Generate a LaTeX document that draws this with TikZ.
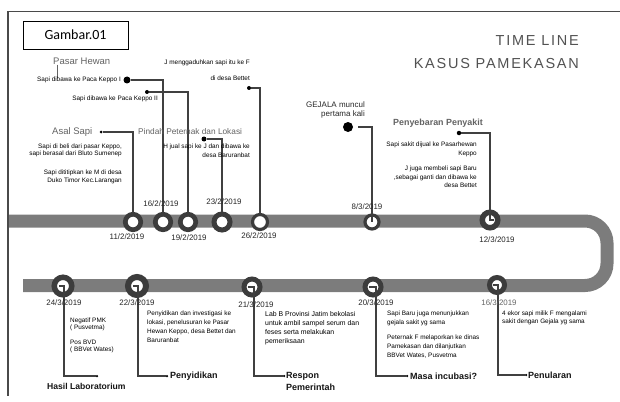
\documentclass[tikz,border=0pt]{standalone}
\usepackage{fontspec}
\setmainfont{Liberation Sans}
\newfontfamily\carlito{Carlito}
\newfontfamily\titlefont[LetterSpace=12]{Liberation Sans}
\usetikzlibrary{calc}
\definecolor{ringc}{HTML}{3C3C3C}
\definecolor{barc}{HTML}{7C7C7C}
\definecolor{headc}{HTML}{626262}
\definecolor{linec}{HTML}{404040}
\definecolor{framec}{HTML}{4A4A4A}
\begin{document}
\begin{tikzpicture}[x=1pt,y=-1pt,
  tlring/.style 2 args={circle,draw=ringc,fill=white,inner sep=0pt,line width=#1,minimum size=#2},
  conn/.style={draw=linec,line width=1.1pt},
  bigdot/.style={circle,fill=black,inner sep=0pt,minimum size=#1},
  tiny/.style={font=\fontsize{6.4}{9}\selectfont,text=black,inner sep=0pt},
  tinyb/.style={font=\fontsize{6.4}{7.5}\selectfont,text=black,inner sep=0pt},
  date/.style={font=\fontsize{7.9}{8}\selectfont,text=black!85,inner sep=0pt},
  head/.style={font=\fontsize{9.5}{11}\selectfont,text=headc,inner sep=0pt},
  lbl/.style={font=\fontsize{9}{11.5}\selectfont\bfseries,text=black!92,inner sep=0pt},
]
\useasboundingbox (0,0) rectangle (620,401);
% frame
\draw[framec,line width=1.2pt] (620,11.5) -- (8,11.5) -- (8,396);
% title box
\node[draw=black,line width=0.9pt,minimum width=105pt,minimum height=28pt,inner sep=0pt,font=\carlito\fontsize{14}{16}\selectfont] (gbox) at (75.5,35) {Gambar.01};
\node[anchor=east,font=\titlefont\fontsize{14.5}{16}\selectfont,text=black!68,inner sep=0pt] (t1) at (579,41) {TIME LINE};
\node[anchor=east,font=\titlefont\fontsize{14.5}{16}\selectfont,text=black!68,inner sep=0pt] (t2) at (579,64) {KASUS PAMEKASAN};
% bar
\coordinate (b1) at (9,221);
\coordinate (b2) at (607,221);
\coordinate (b3) at (607,285.5);
\coordinate (b4) at (23,285.5);
\draw[barc,line width=13pt,rounded corners=22pt] (b1) -- (b2) -- (b3) -- (b4);
% upper rings
\node[tlring={4.7pt}{15.5pt}] (r112) at (133,222) {};
\node[tlring={4.7pt}{15.5pt}] (r162) at (163,222) {};
\node[tlring={4.7pt}{15.5pt}] (r192) at (188,222) {};
\node[tlring={5pt}{16pt}] (r232) at (222,222) {};
\node[tlring={3.2pt}{15pt}] (r262) at (260,222) {};
\node[tlring={3.2pt}{14pt}] (r83) at (372,222) {};
\node[tlring={5.5pt}{15.5pt}] (r123) at (490,220) {};
% lower rings
\node[tlring={5.5pt}{17.5pt}] (r243) at (63,286) {};
\node[tlring={6pt}{18pt}] (r223) at (137,286) {};
\node[tlring={5pt}{16pt}] (r213) at (252,287) {};
\node[tlring={5pt}{16pt}] (r203) at (373,287) {};
\node[tlring={5pt}{15pt}] (r163) at (497,285) {};
% upper dots
\node[bigdot=7pt] (dK1) at (127,80) {};
\node[bigdot=4pt] (dK2) at (147,92) {};
\node[bigdot=4pt] (dBet) at (249,88) {};
\node[bigdot=5pt] (dPin) at (204,139) {};
\node[bigdot=3pt] (dAsal) at (101,132) {};
\node[bigdot=10pt] (dGej) at (348,127) {};
\node[bigdot=4.5pt] (dPeny) at (459,133) {};
% lower end dots
\node[bigdot=2.5pt] (eHasil) at (97,376) {};
\node[bigdot=2.5pt] (ePeny) at (167,376) {};
\node[bigdot=2.5pt] (eResp) at (284,376) {};
\node[bigdot=2.5pt] (eMasa) at (407,376) {};
\node[bigdot=2.5pt] (ePenu) at (526,375) {};
% upper connectors
\draw[conn] (dAsal) -| (r112);
\draw[conn] (dK1) -| (r162);
\draw[conn] (dK2) -| (r192);
\draw[conn] (dBet) -| (r262);
\draw[conn] (dPin) -| (r232);
\draw[conn,shorten <=5pt] (dGej) -| (r83.center);
\draw[conn] (dPeny) -| (r123.center) -- ++(4,0);
% lower connectors
\draw[conn] ([xshift=-4pt]r243.center) -- ([xshift=1pt]r243.center) |- (eHasil);
\draw[conn] ([xshift=-4pt]r223.center) -- ([xshift=1pt]r223.center) |- (ePeny);
\draw[conn] ([xshift=-4pt]r213.center) -- ([xshift=2pt]r213.center) |- (eResp);
\draw[conn] ([xshift=-4pt]r203.center) -- ([xshift=3pt]r203.center) |- (eMasa);
\draw[conn] ([xshift=-4pt]r163.center) -- ([xshift=1pt]r163.center) |- (ePenu);
% dates
\node[date] (d112) at (127,237) {11/2/2019};
\node[date] (d162) at (161,204) {16/2/2019};
\node[date] (d192) at (189,238) {19/2/2019};
\node[date] (d232) at (224,202) {23/2/2019};
\node[date] (d262) at (259,236) {26/2/2019};
\node[date] (d83) at (367,207) {8/3/2019};
\node[date] (d123) at (497,240) {12/3/2019};
\node[date] (d243) at (64,303) {24/3/2019};
\node[date] (d223) at (137,303) {22/3/2019};
\node[date] (d213) at (256,305) {21/3/2019};
\node[date] (d203) at (376,303) {20/3/2019};
\node[date,text=black!60] (d163) at (499,303) {16/3/2019};
% headings
\node[head,anchor=west] (hPasar) at (53,61) {Pasar Hewan};
\draw[headc,line width=1pt] ([xshift=4pt]hPasar.south west) -- ++(0,13);
\node[head,anchor=west] (hAsal) at (52,132) {Asal Sapi};
\node[head,anchor=west,font=\fontsize{8.3}{10}\selectfont] (hPin) at (138,132) {Pindah Peternak dan Lokasi};
\node[head,anchor=west,font=\fontsize{8.9}{10}\selectfont\bfseries] (hPenyeb) at (393,123) {Penyebaran Penyakit};
% upper texts
\node[tiny,anchor=east] (tK1) at (121,80) {Sapi dibawa ke Paca Keppo I};
\node[tiny,anchor=east] (tK2) at (158,99) {Sapi dibawa ke Paca Keppo II};
\node[tiny,anchor=east] (tJ1) at (250,63) {J menggaduhkan sapi itu ke F};
\node[tiny,anchor=east] (tJ2) at (250,78) {di desa Bettet};
\node[tiny,anchor=north east,align=right] (tPin) at (250,144) {H jual sapi ke J dan dibawa ke\\desa Baruranbat};
\node[tinyb,anchor=north east,align=right] (tAs1) at (122,143.5) {Sapi di beli dari pasar Keppo,\\sapi berasal dari Bluto Sumenep};
\node[tinyb,anchor=north east,align=right,font=\fontsize{6.4}{8}\selectfont] (tAs2) at (122,169.5) {Sapi dititipkan ke M di desa\\Duko Timor Kec.Larangan};
\node[anchor=north east,align=right,inner sep=0pt,font=\fontsize{8}{9}\selectfont,text=black!85] (tGej) at (365,101.5) {GEJALA muncul\\pertama kali};
\node[tiny,anchor=north east,align=right] (tPy1) at (477,142) {Sapi sakit dijual ke Pasarhewan\\Keppo};
\node[tiny,anchor=north east,align=right,font=\fontsize{6.4}{8.5}\selectfont] (tPy2) at (477,166) {J juga membeli sapi Baru\\,sebagai ganti dan dibawa ke\\desa Bettet};
% lower texts
\node[tinyb,anchor=north west,align=left] (tH1) at (70,317.5) {Negatif PMK\\( Pusvetma)};
\node[tinyb,anchor=north west,align=left] (tH2) at (70,339.5) {Pos BVD\\( BBVet Wates)};
\node[tiny,anchor=north west,align=left] (tPd) at (147,310.5) {Penyidikan dan investigasi ke\\lokasi, penelusuran ke Pasar\\Hewan Keppo, desa Bettet dan\\Baruranbat};
\node[tiny,anchor=north west,align=left,font=\fontsize{6.9}{9}\selectfont] (tLab) at (265,311) {Lab B Provinsi Jatim bekolasi\\untuk ambil sampel serum dan\\feses serta melakukan\\pemeriksaan};
\node[tiny,anchor=north west,align=left] (tSb) at (387,310.5) {Sapi Baru juga menunjukkan\\gejala sakit yg sama};
\node[tiny,anchor=north west,align=left] (tPt) at (387,334.5) {Peternak F melaporkan ke dinas\\Pamekasan dan dilanjutkan\\BBVet Wates, Pusvetma};
\node[tiny,anchor=north west,align=left,font=\fontsize{6.4}{8}\selectfont] (tEk) at (502,311) {4 ekor sapi milik F mengalami\\sakit dengan Gejala yg sama};
% lower labels
\node[lbl,anchor=west,font=\fontsize{8.6}{11}\selectfont\bfseries] (lHasil) at (47,386) {Hasil Laboratorium};
\node[lbl,anchor=west] (lPeny) at (170,376) {Penyidikan};
\node[lbl,anchor=north west,align=left] (lResp) at (286,372.5) {Respon\\Pemerintah};
\node[lbl,anchor=west] (lMasa) at (410,376) {Masa incubasi?};
\node[lbl,anchor=west] (lPenu) at (528,375) {Penularan};
\end{tikzpicture}
\end{document}
